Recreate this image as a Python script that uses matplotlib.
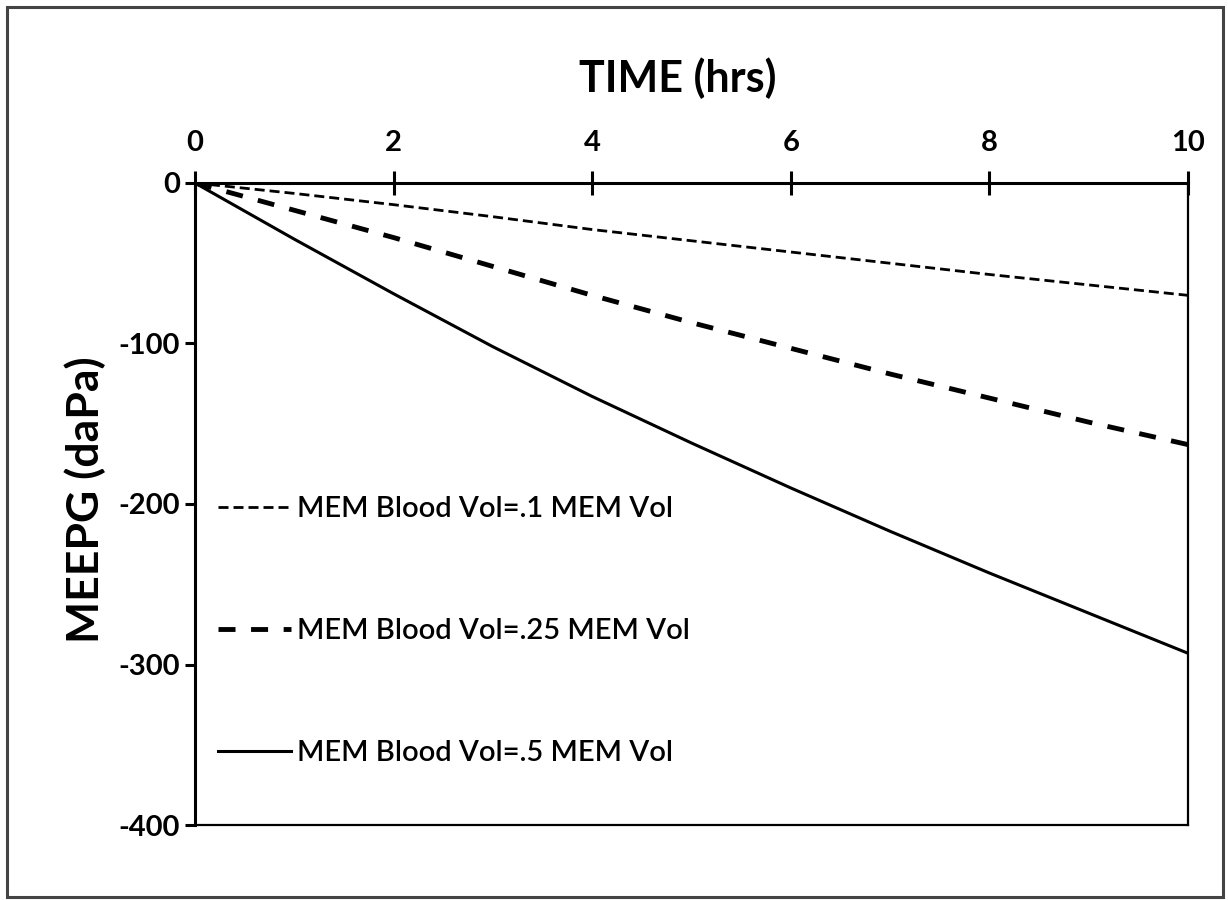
import matplotlib
matplotlib.use("Agg")
import matplotlib.pyplot as plt
from matplotlib.patches import Rectangle

# ---- data ----
hours = [0, 1, 2, 3, 4, 5, 6, 7, 8, 9, 10]
meepg_01 = [0, -6.5, -13.5, -21, -29, -36, -43, -50, -57, -63.5, -70]
meepg_025 = [0, -17, -34, -52, -70, -87, -103, -119, -134, -149, -163]
meepg_05 = [0, -35, -69, -102, -133, -162, -190, -217, -243, -268, -293]
labels = ["MEM Blood Vol=.1 MEM Vol", "MEM Blood Vol=.25 MEM Vol", "MEM Blood Vol=.5 MEM Vol"]
x_ticks = [0, 2, 4, 6, 8, 10]
y_ticks = [0, -100, -200, -300, -400]

plt.rcParams['font.family'] = ['Lato', 'DejaVu Sans']

W, H = 1228, 900
fig = plt.figure(figsize=(W / 100, H / 100), dpi=100)
fig.patch.set_facecolor('white')

# outer frame
fig.patches.append(Rectangle((7 / W, 1 - 897 / H), (1223 - 7) / W, (897 - 7) / H,
                             transform=fig.transFigure, fill=False,
                             edgecolor='#444444', linewidth=2.2))

ax = fig.add_axes([195 / W, 1 - 825 / H, (1188 - 195) / W, (825 - 183) / H])

l1, = ax.plot(hours, meepg_01, color='black', lw=2.0, dashes=(3.6, 1.8))
l2, = ax.plot(hours, meepg_025, color='black', lw=3.5, dashes=(3.5, 3.2))
l3, = ax.plot(hours, meepg_05, color='black', lw=2.2)

ax.set_xlim(0, 10)
ax.set_ylim(-400, 0)
ax.set_xticks(x_ticks)
ax.set_yticks(y_ticks)
ax.set_xticklabels([str(t) for t in x_ticks])
ax.set_yticklabels([str(t) for t in y_ticks])

ax.xaxis.tick_top()
ax.tick_params(axis='x', direction='inout', length=17, width=2.2, pad=11,
               labelsize=21, top=True, bottom=False)
ax.tick_params(axis='y', direction='out', length=7, width=2.2, pad=4,
               labelsize=21, left=True, right=False)
for lab in ax.get_xticklabels() + ax.get_yticklabels():
    lab.set_fontweight('bold')

for s in ['top', 'left']:
    ax.spines[s].set_linewidth(2.2)
for s in ['bottom', 'right']:
    ax.spines[s].set_linewidth(1.6)

ax.xaxis.set_label_position('top')
ax.set_xlabel('TIME (hrs)', fontsize=31, fontweight='bold')
ax.xaxis.set_label_coords((678 - 195) / 993, (825 - 78) / 642)
ax.xaxis.label.set_verticalalignment('center')

ax.set_ylabel('MEEPG (daPa)', fontsize=32, fontweight='bold')
ax.yaxis.set_label_coords((85 - 195) / 993, (825 - 500) / 642)
ax.yaxis.label.set_verticalalignment('center')

leg = ax.legend([l1, l2, l3], labels, loc='upper left',
                bbox_to_anchor=((218 - 195) / 993, (825 - 496) / 642),
                frameon=False, borderpad=0, borderaxespad=0,
                handlelength=2.5, handletextpad=0.2, labelspacing=3.3,
                prop={'size': 21, 'weight': 'semibold'})

fig.savefig('out.png', dpi=100, facecolor='white')
